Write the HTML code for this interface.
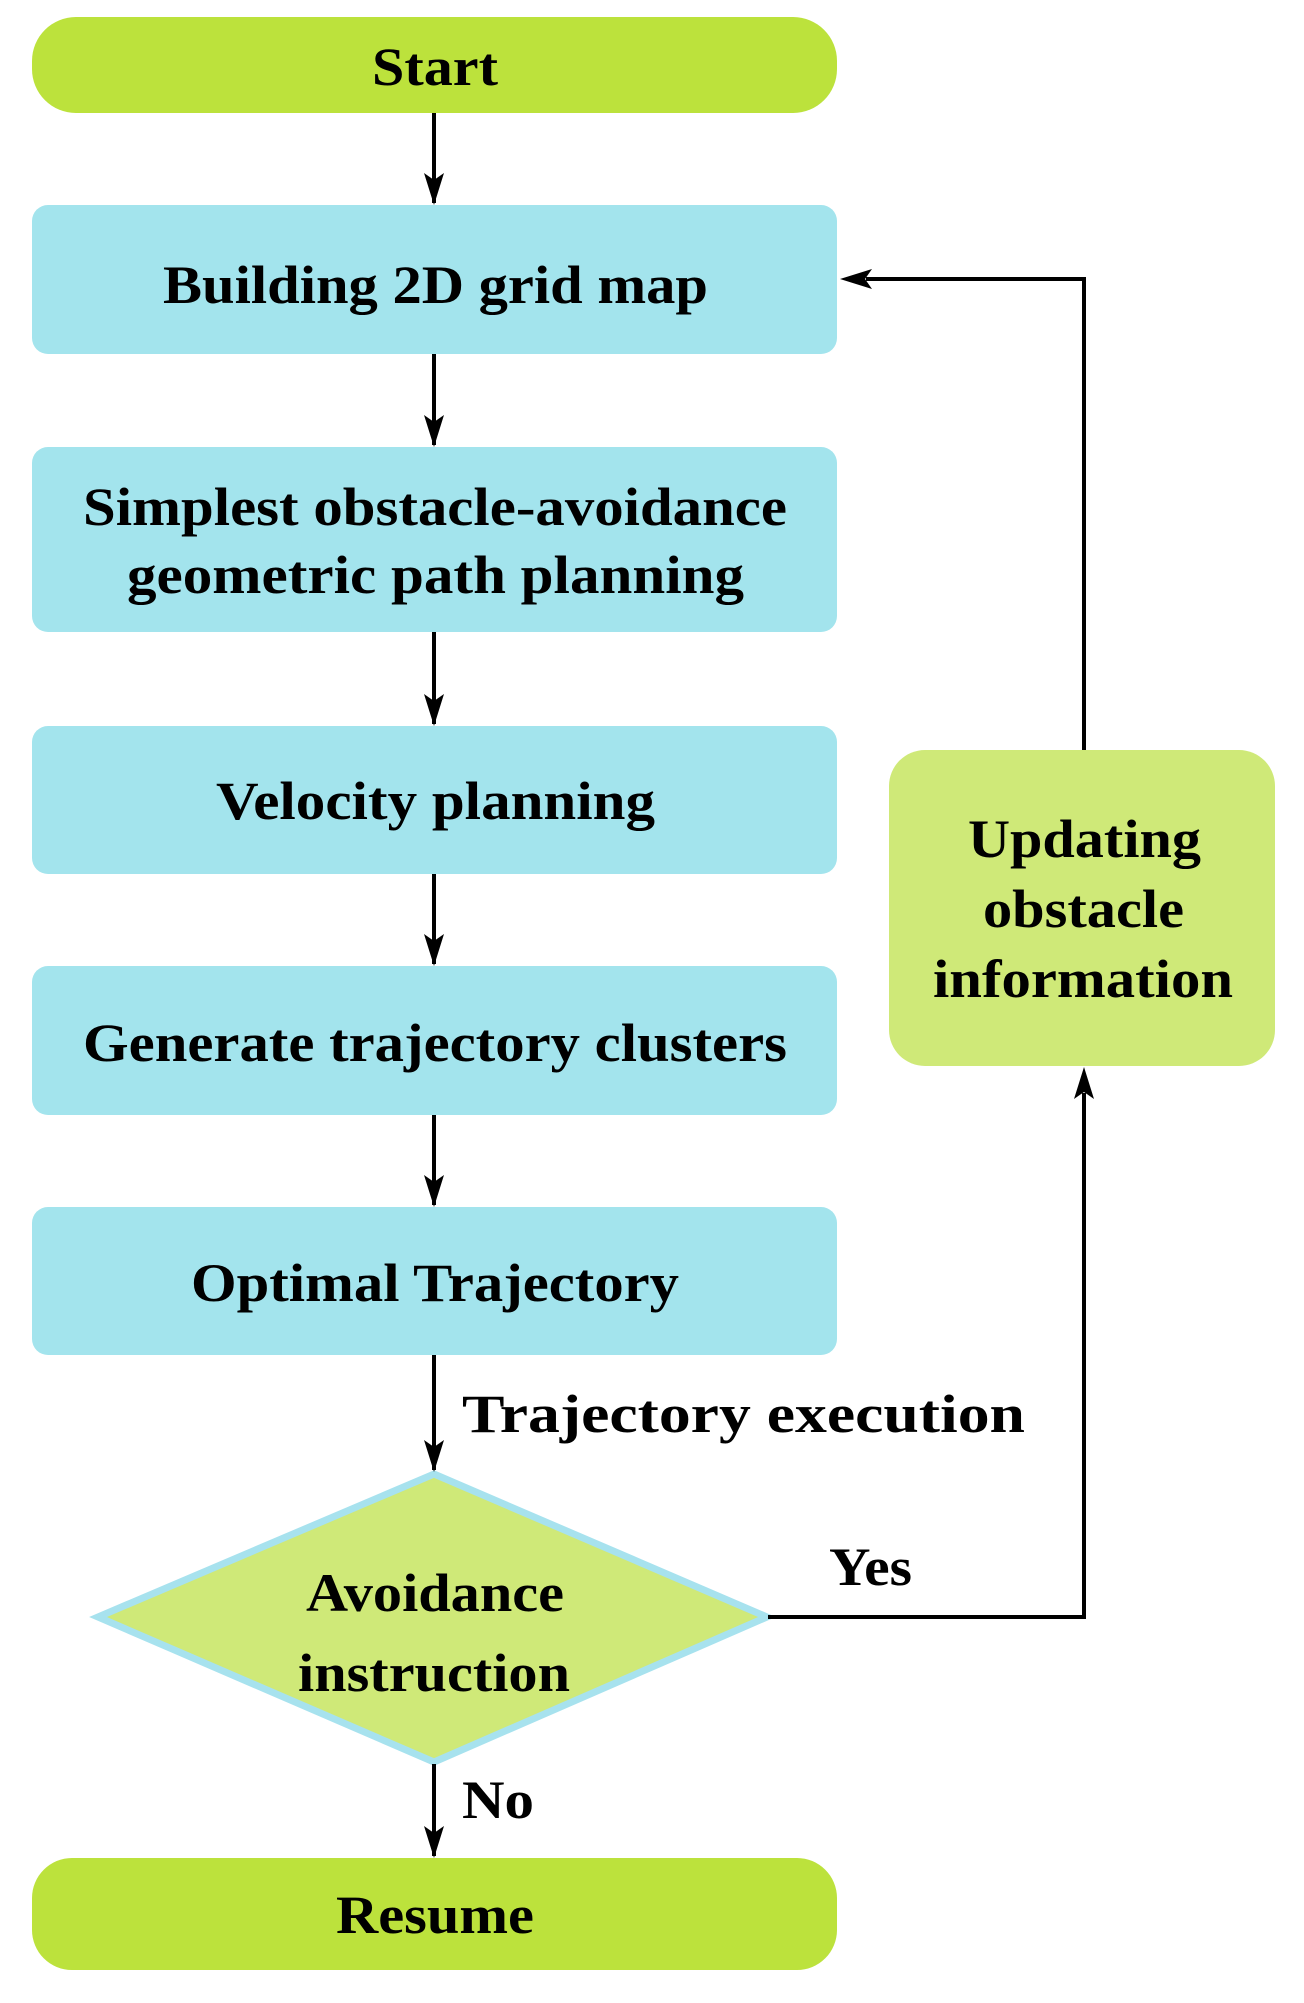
<!DOCTYPE html>
<html><head><style>html,body{margin:0;padding:0;background:#fff}svg{display:block}</style></head><body>
<svg width="1304" height="2003" viewBox="0 0 1304 2003" xmlns="http://www.w3.org/2000/svg" font-family="Liberation Serif, Times New Roman, serif" font-weight="bold" font-size="54">
<style>.l{stroke:#000;stroke-width:4;fill:none}</style>
<rect x="32" y="17" width="805" height="96" rx="44" fill="#bce23c"/>
<rect x="32" y="205" width="805" height="149" rx="16" fill="#a3e4ed"/>
<rect x="32" y="447" width="805" height="185" rx="16" fill="#a3e4ed"/>
<rect x="32" y="726" width="805" height="148" rx="16" fill="#a3e4ed"/>
<rect x="32" y="966" width="805" height="149" rx="16" fill="#a3e4ed"/>
<rect x="32" y="1207" width="805" height="148" rx="16" fill="#a3e4ed"/>
<rect x="889" y="750" width="386" height="316" rx="36" fill="#cfe978"/>
<polygon points="434,1474 767,1617 434,1762 98,1617" fill="#cfe978" stroke="#a7e2ee" stroke-width="7"/>
<rect x="32" y="1858" width="805" height="112" rx="40" fill="#bce23c"/>
<g class="l">
<line x1="434" y1="113" x2="434" y2="203"/>
<line x1="434" y1="354" x2="434" y2="445"/>
<line x1="434" y1="632" x2="434" y2="724"/>
<line x1="434" y1="874" x2="434" y2="964"/>
<line x1="434" y1="1115" x2="434" y2="1205"/>
<line x1="434" y1="1355" x2="434" y2="1470"/>
<line x1="434" y1="1764" x2="434" y2="1856"/>
</g>
<g fill="#000">
<path d="M424,173 L434,205 L444,173 L434,180z"/>
<path d="M424,415 L434,447 L444,415 L434,422z"/>
<path d="M424,694 L434,726 L444,694 L434,701z"/>
<path d="M424,934 L434,966 L444,934 L434,941z"/>
<path d="M424,1175 L434,1207 L444,1175 L434,1182z"/>
<path d="M424,1440 L434,1472 L444,1440 L434,1447z"/>
<path d="M424,1826 L434,1858 L444,1826 L434,1833z"/>
<path d="M872,269 L840,279 L872,289 L865,279z"/>
<path d="M1074,1099 L1084,1067 L1094,1099 L1084,1092z"/>
</g>
<polyline class="l" points="1084,750 1084,279 866,279"/>
<polyline class="l" points="768,1617 1084,1617 1084,1093"/>
<g fill="#000" text-anchor="start">
<text x="372" y="85" textLength="126" lengthAdjust="spacingAndGlyphs">Start</text>
<text x="163" y="303" textLength="545" lengthAdjust="spacingAndGlyphs">Building 2D grid map</text>
<text x="83" y="525" textLength="704" lengthAdjust="spacingAndGlyphs">Simplest obstacle-avoidance</text>
<text x="127" y="593" textLength="617" lengthAdjust="spacingAndGlyphs">geometric path planning</text>
<text x="216" y="819" textLength="439" lengthAdjust="spacingAndGlyphs">Velocity planning</text>
<text x="83" y="1061" textLength="704" lengthAdjust="spacingAndGlyphs">Generate trajectory clusters</text>
<text x="191" y="1301" textLength="488" lengthAdjust="spacingAndGlyphs">Optimal Trajectory</text>
<text x="462" y="1432" textLength="563" lengthAdjust="spacingAndGlyphs">Trajectory execution</text>
<text x="306" y="1611" textLength="258" lengthAdjust="spacingAndGlyphs">Avoidance</text>
<text x="298" y="1691" textLength="272" lengthAdjust="spacingAndGlyphs">instruction</text>
<text x="829" y="1585" textLength="83" lengthAdjust="spacingAndGlyphs">Yes</text>
<text x="462" y="1818" textLength="72" lengthAdjust="spacingAndGlyphs">No</text>
<text x="336" y="1933" textLength="198" lengthAdjust="spacingAndGlyphs">Resume</text>
<text x="968" y="857" textLength="233" lengthAdjust="spacingAndGlyphs">Updating</text>
<text x="983" y="927" textLength="201" lengthAdjust="spacingAndGlyphs">obstacle</text>
<text x="933" y="997" textLength="300" lengthAdjust="spacingAndGlyphs">information</text>
</g>
</svg>
</body></html>
